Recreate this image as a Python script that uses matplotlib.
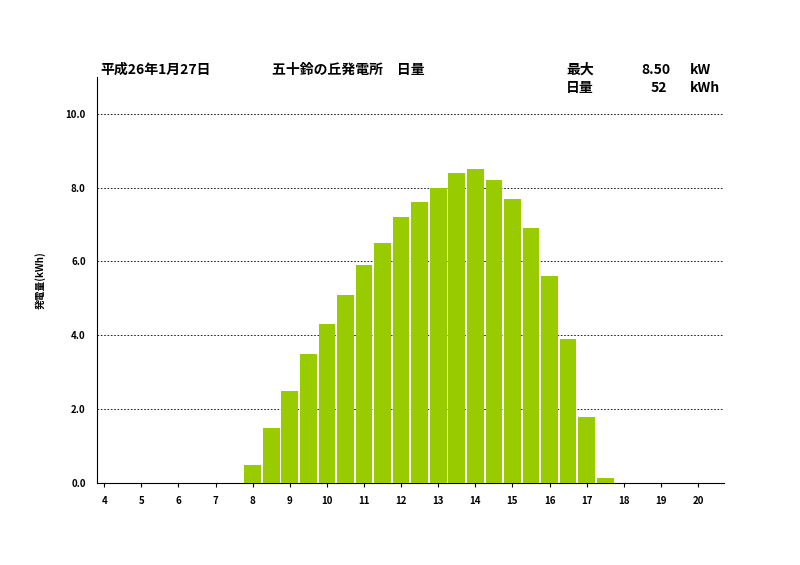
import matplotlib
matplotlib.use("Agg")
import matplotlib.pyplot as plt

plt.rcParams['font.family'] = ['Noto Sans CJK JP', 'DejaVu Sans']

hours = [8, 8.5, 9, 9.5, 10, 10.5, 11, 11.5, 12, 12.5, 13, 13.5, 14, 14.5, 15, 15.5, 16, 16.5, 17, 17.5]
values = [0.5, 1.5, 2.5, 3.5, 4.3, 5.1, 5.9, 6.5, 7.2, 7.6, 8.0, 8.4, 8.5, 8.2, 7.7, 6.9, 5.6, 3.9, 1.8, 0.15]
xticks = list(range(4, 21))

fig = plt.figure(figsize=(8, 5.65), dpi=100)
ax = fig.add_axes([0.121, 0.145, 0.784, 0.719])
ax.bar(hours, values, width=0.45, color='#99CC00', zorder=3)
ax.set_xlim(3.8, 20.7)
ax.set_ylim(0, 11)
ax.set_yticks([0, 2, 4, 6, 8, 10])
ax.set_yticklabels([f"{v:.1f}" for v in [0, 2, 4, 6, 8, 10]], fontsize=7, fontweight='bold')
ax.set_xticks(xticks)
ax.set_xticklabels([str(t) for t in xticks], fontsize=7, fontweight='bold')
ax.tick_params(axis='x', length=3, direction='out', pad=6)
ax.tick_params(axis='y', length=0, pad=8)
for y in [2, 4, 6, 8, 10]:
    ax.axhline(y, color='black', linestyle=(0, (2, 2)), linewidth=0.6, zorder=1)
ax.spines['top'].set_visible(False)
ax.spines['right'].set_visible(False)
ax.spines['left'].set_linewidth(0.8)
ax.spines['bottom'].set_linewidth(0.8)
ax.set_ylabel("発電量(kWh)", fontsize=7, fontweight='bold', labelpad=14)

fs = 10
fig.text(100/800, 1-70/565, "平成26年1月27日", fontsize=fs, fontweight='bold', va='center')
fig.text(272/800, 1-70/565, "五十鈴の丘発電所　日量", fontsize=fs, fontweight='bold', va='center')
fig.text(566/800, 1-70/565, "最大", fontsize=fs, fontweight='bold', va='center')
fig.text(641/800, 1-70/565, "8.50", fontsize=fs, fontweight='bold', va='center')
fig.text(690/800, 1-70/565, "kW", fontsize=fs, fontweight='bold', va='center')
fig.text(566/800, 1-88/565, "日量", fontsize=fs, fontweight='bold', va='center')
fig.text(651/800, 1-88/565, "52", fontsize=fs, fontweight='bold', va='center')
fig.text(690/800, 1-88/565, "kWh", fontsize=fs, fontweight='bold', va='center')

fig.savefig("out.png", dpi=100)
